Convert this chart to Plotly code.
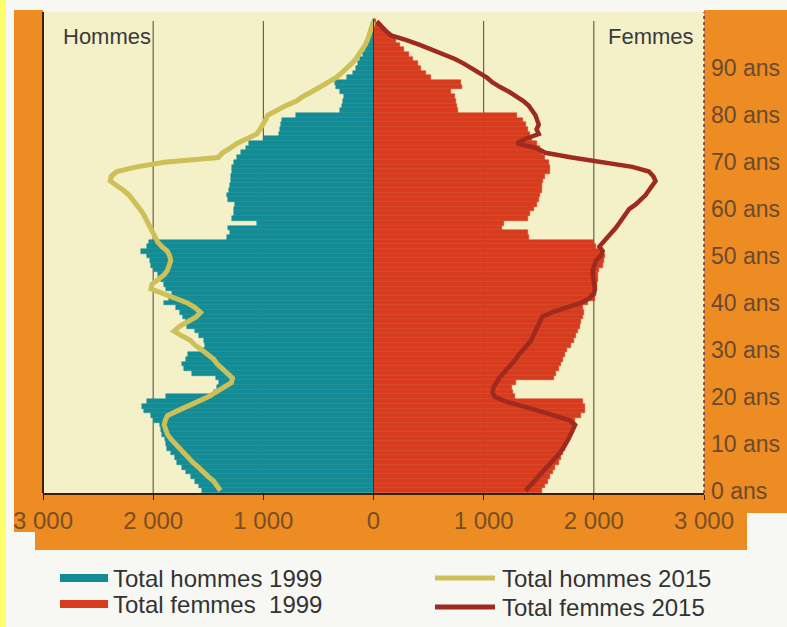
import plotly.graph_objects as go

# ---------------------------------------------------------------------------
# Data: one value per single year of age (0 .. 100)
# ---------------------------------------------------------------------------

ages = list(range(0, 101))

hommes_1999 = [
    1560, 1580, 1620, 1660, 1700, 1740, 1780, 1800, 1840, 1870,
    1880, 1890, 1920, 1930, 1940, 1990, 2020, 2080, 2100, 2060,
    1880, 1450, 1420, 1400, 1430, 1650, 1720, 1740, 1700, 1680,
    1560, 1530, 1540, 1580, 1620, 1690, 1700, 1730, 1760, 1790,
    1900, 1860, 1830, 1880, 1900, 1930, 1960, 1990, 2020, 2030,
    2060, 2110, 2060, 2040, 1330, 1300, 1320, 1060, 1280, 1270,
    1270, 1260, 1320, 1330, 1310, 1300, 1290, 1290, 1280, 1280,
    1270, 1240, 1200, 1160, 1130, 990, 860, 850, 840, 830,
    700, 300, 290, 280, 270, 300, 340, 350, 240, 190,
    160, 140, 120, 95, 75, 60, 45, 30, 20, 10, 5,
]

femmes_1999 = [
    1530, 1560, 1580, 1600, 1630, 1650, 1680, 1700, 1720, 1740,
    1760, 1780, 1790, 1800, 1810, 1830, 1880, 1920, 1920, 1900,
    1280, 1270, 1260, 1290, 1640, 1660, 1680, 1700, 1720, 1740,
    1760, 1790, 1820, 1840, 1860, 1870, 1880, 1900, 1910, 1900,
    1950, 2010, 2020, 2030, 2030, 2040, 2040, 2050, 2080, 2090,
    2100, 2060, 2020, 2000, 1410, 1400, 1170, 1180, 1400, 1420,
    1460, 1480, 1500, 1510, 1530, 1530, 1540, 1560, 1600, 1600,
    1590, 1560, 1530, 1510, 1480, 1440, 1420, 1400, 1380, 1360,
    1300, 770, 760, 750, 740, 700, 800, 790, 520, 480,
    430, 400, 360, 320, 280, 240, 200, 160, 110, 60, 20,
]

hommes_2015 = [
    1390, 1420, 1450, 1500, 1540, 1590, 1640, 1680, 1720, 1770,
    1810, 1840, 1870, 1890, 1900, 1890, 1870, 1780, 1680, 1580,
    1500, 1430, 1360, 1290, 1280, 1330, 1380, 1420, 1450, 1500,
    1560, 1620, 1660, 1740, 1810, 1760, 1680, 1610, 1570, 1620,
    1690, 1800, 1930, 2020, 2010, 1960, 1900, 1870, 1850, 1840,
    1850, 1870, 1920, 1960, 1980, 2000, 2020, 2040, 2070, 2090,
    2120, 2150, 2180, 2220, 2270, 2330, 2390, 2380, 2330, 2150,
    1900, 1410, 1370, 1300, 1240, 1150, 1060, 1030, 1000, 980,
    960, 890, 800, 700, 640, 560, 480, 400, 340, 290,
    240, 200, 160, 130, 100, 75, 55, 40, 25, 12, 0,
]

femmes_2015 = [
    1380, 1420, 1460, 1500, 1540, 1580, 1620, 1650, 1690, 1720,
    1750, 1770, 1790, 1810, 1830, 1780, 1650, 1500, 1350, 1200,
    1100, 1080, 1090, 1110, 1140, 1180, 1220, 1260, 1290, 1320,
    1360, 1400, 1430, 1450, 1470, 1490, 1510, 1530, 1620, 1740,
    1880, 1960, 2000, 2010, 2000, 1990, 1990, 1990, 2000, 2020,
    2060, 2080, 2050, 2090, 2120, 2160, 2200, 2230, 2260, 2290,
    2320, 2380, 2430, 2470, 2500, 2530, 2560, 2540, 2500, 2350,
    2050, 1800, 1560, 1480, 1300, 1380, 1500, 1480, 1500, 1490,
    1470, 1440, 1410, 1360, 1300, 1230, 1150, 1080, 1030, 960,
    900, 820, 740, 640, 540, 420, 300, 160, 110, 70, 30,
]

x_ticks = [-3000, -2000, -1000, 0, 1000, 2000, 3000]
x_labels = ["3 000", "2 000", "1 000", "0", "1 000", "2 000", "3 000"]
grid_vals = [-2000, -1000, 1000, 2000]
y_ticks = [0, 10, 20, 30, 40, 50, 60, 70, 80, 90]
y_labels = [f"{a} ans" for a in y_ticks]

legend_items = [
    ("Total hommes 1999", "bar", "#148C96"),
    ("Total femmes\u00a0 1999", "bar", "#D73C1E"),
    ("Total hommes 2015", "line", "#CDC058"),
    ("Total femmes 2015", "line", "#9E2A20"),
]

# ---------------------------------------------------------------------------
# Colours / geometry
# ---------------------------------------------------------------------------

TEAL = "#148C96"
RED = "#D73C1E"
OLIVE = "#CDC058"
DARKRED = "#9E2A20"
ORANGE = "#EC8C22"
CREAM = "#F4F1C9"
FONT = "Liberation Sans, Arial, sans-serif"

W, H = 787, 627
L, R, T, B = 43, 704, 12, 493   # plot box in pixels


def px(x):
    return (x - L) / (R - L)


def py(y):
    return (B - y) / (B - T)


fig = go.Figure()

fig.add_trace(go.Bar(
    y=ages, x=[-v for v in hommes_1999], orientation="h", width=1,
    marker=dict(color=TEAL, line=dict(color=TEAL, width=0.5)),
    name="Total hommes 1999",
))
fig.add_trace(go.Bar(
    y=ages, x=femmes_1999, orientation="h", width=1,
    marker=dict(color=RED, line=dict(color=RED, width=0.5)),
    name="Total femmes 1999",
))
fig.add_trace(go.Scatter(
    y=ages, x=[-v for v in hommes_2015], mode="lines",
    line=dict(color=OLIVE, width=5), name="Total hommes 2015",
))
fig.add_trace(go.Scatter(
    y=ages, x=femmes_2015, mode="lines",
    line=dict(color=DARKRED, width=4.5), name="Total femmes 2015",
))

# orange frame around the plot (U shape)
frame_pts = [(14, 10), (L, 10), (L, B), (R, B), (R, 10), (787, 10), (787, 513),
             (747, 513), (747, 550), (35, 550), (35, 532), (14, 532)]
path = "M " + " L ".join(f"{px(x):.5f},{py(y):.5f}" for x, y in frame_pts) + " Z"

shapes = [
    dict(type="rect", xref="paper", yref="paper", x0=px(0), x1=px(6),
         y0=py(H), y1=py(0), fillcolor="#FFFF6E", line=dict(width=0), layer="below"),
    dict(type="path", xref="paper", yref="paper", path=path,
         fillcolor=ORANGE, line=dict(width=0), layer="below"),
    # left border
    dict(type="line", xref="paper", yref="paper", x0=0, x1=0, y0=0, y1=1,
         line=dict(color="#3A2010", width=2), layer="above"),
    # right dotted border
    dict(type="line", xref="paper", yref="paper", x0=1, x1=1, y0=0, y1=1,
         line=dict(color="#5A3A5A", width=1.5, dash="dot"), layer="above"),
    # zero line
    dict(type="line", xref="x", yref="paper", x0=0, x1=0, y0=0, y1=py(20),
         line=dict(color="#4A3020", width=1), layer="above"),
]

# vertical grid lines stop a little below the top of the panel
for g in grid_vals:
    shapes.append(dict(type="line", xref="x", yref="paper", x0=g, x1=g,
                       y0=0, y1=py(21), line=dict(color="#4D4535", width=1),
                       layer="below"))

annotations = [
    dict(text="Hommes", xref="paper", yref="paper", x=px(61), y=py(36),
         xanchor="left", yanchor="middle", showarrow=False,
         font=dict(size=22, color="#3A3A3A", family=FONT)),
    dict(text="Femmes", xref="paper", yref="paper", x=px(696), y=py(36),
         xanchor="right", yanchor="middle", showarrow=False,
         font=dict(size=22, color="#3A3A3A", family=FONT)),
]

# legend drawn by hand: two columns of two items
legend_pos = [(60, 578), (60, 604), (435, 578), (435, 607)]
for (label, kind, color), (lx, ly) in zip(legend_items, legend_pos):
    if kind == "bar":
        shapes.append(dict(type="rect", xref="paper", yref="paper",
                           x0=px(lx), x1=px(lx + 48), y0=py(ly + 4), y1=py(ly - 4),
                           fillcolor=color, line=dict(width=0)))
        tx = lx + 51
    else:
        shapes.append(dict(type="line", xref="paper", yref="paper",
                           x0=px(lx), x1=px(lx + 60), y0=py(ly), y1=py(ly),
                           line=dict(color=color, width=5)))
        tx = lx + 65
    annotations.append(dict(text=label, xref="paper", yref="paper",
                            x=px(tx), y=py(ly), xanchor="left", yanchor="middle",
                            showarrow=False,
                            font=dict(size=24, color="#333333", family=FONT)))

fig.update_layout(
    width=W, height=H,
    margin=dict(l=L, r=W - R, t=T, b=H - B),
    paper_bgcolor="#F7F7F4",
    plot_bgcolor=CREAM,
    barmode="relative", bargap=0,
    showlegend=False,
    font=dict(family=FONT),
    shapes=shapes,
    annotations=annotations,
)

fig.update_xaxes(
    range=[-3000, 3000], tickvals=x_ticks, ticktext=x_labels,
    showgrid=False, zeroline=False, automargin=False,
    showline=True, linecolor="#3A2010", linewidth=2,
    ticks="outside", ticklen=5, tickcolor="#3A2010",
    tickfont=dict(size=24, color="#7A4E25", family=FONT),
    fixedrange=True,
)
fig.update_yaxes(
    range=[-0.5, 102], side="right", tickvals=y_ticks, ticktext=y_labels,
    showgrid=False, zeroline=False, showline=False, ticks="",
    ticklabelstandoff=6, automargin=False,
    tickfont=dict(size=23, color="#6B4A30", family=FONT),
    fixedrange=True,
)

# the page body has a default 8px margin; drop it so the figure sits at (0, 0)
fig.write_html(
    "out.html",
    config={"displayModeBar": False},
    post_script="document.body.style.margin='0px';document.body.style.background='#F7F7F4';",
)
